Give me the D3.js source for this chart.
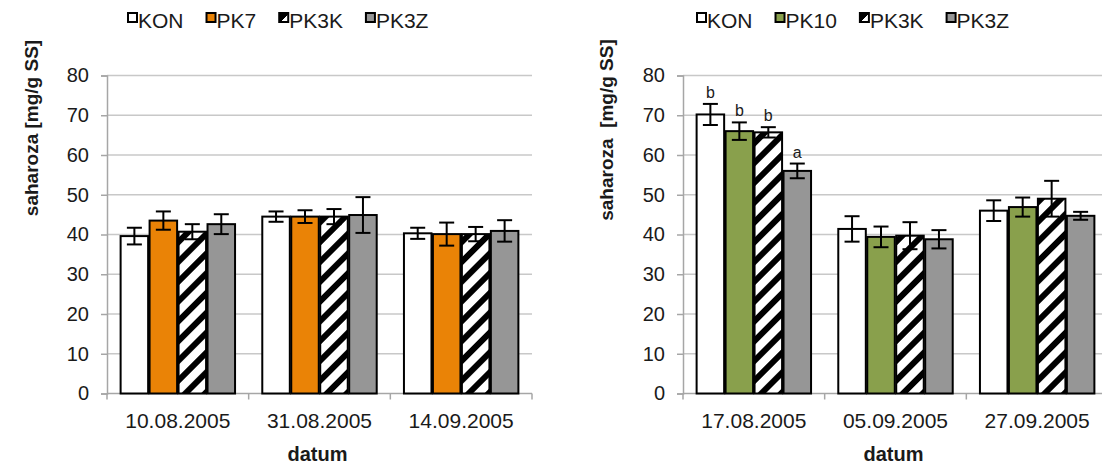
<!DOCTYPE html>
<html>
<head>
<meta charset="utf-8">
<script src="https://cdn.jsdelivr.net/npm/d3@7/dist/d3.min.js"></script>
<style>
  body { margin: 0; background: #fff; }
  svg { display: block; font-family: "Liberation Sans", Arial, sans-serif; }
</style>
</head>
<body>
<svg id="chart" width="1102" height="465"></svg>
<script>
// left panel
var datesA = ["10.08.2005", "31.08.2005", "14.09.2005"];
var seriesA = ["KON", "PK7", "PK3K", "PK3Z"];
var valuesA = [
  [39.6, 43.5, 40.7, 42.6],
  [44.5, 44.5, 44.5, 44.9],
  [40.3, 40.1, 40.1, 40.9]
];
var errorsA = [
  [2.1, 2.3, 1.9, 2.5],
  [1.3, 1.6, 1.9, 4.5],
  [1.4, 2.9, 1.8, 2.7]
];
var lettersA = [["", "", "", ""], ["", "", "", ""], ["", "", "", ""]];

// right panel
var datesB = ["17.08.2005", "05.09.2005", "27.09.2005"];
var seriesB = ["KON", "PK10", "PK3K", "PK3Z"];
var valuesB = [
  [70.2, 66.0, 65.7, 56.0],
  [41.4, 39.4, 39.7, 38.8],
  [46.0, 46.9, 49.0, 44.7]
];
var errorsB = [
  [2.65, 2.2, 1.3, 1.85],
  [3.2, 2.6, 3.4, 2.3],
  [2.6, 2.4, 4.5, 1.0]
];
var lettersB = [["b", "b", "b", "a"], ["", "", "", ""], ["", "", "", ""]];

var yTicks = [0, 10, 20, 30, 40, 50, 60, 70, 80];

var svg = d3.select("#chart");
var ink = "#1a1a1a";

// hatch for PK3K
var defs = svg.append("defs");
var pat = defs.append("pattern")
    .attr("id", "hatch")
    .attr("patternUnits", "userSpaceOnUse")
    .attr("width", 14).attr("height", 14)
    .attr("patternTransform", "rotate(45)");
pat.append("rect").attr("width", 14).attr("height", 14).attr("fill", "#fff");
pat.append("rect").attr("width", 6).attr("height", 14).attr("fill", "#000");

// half-black swatch for the hatched series
defs.append("linearGradient").attr("id", "half")
  .attr("x1", 0).attr("y1", 0).attr("x2", 1).attr("y2", 1)
  .selectAll("stop").data([["0", "#000"], ["0.55", "#000"], ["0.55", "#fff"], ["1", "#fff"]])
  .join("stop").attr("offset", function(d) { return d[0]; }).attr("stop-color", function(d) { return d[1]; });

function drawPanel(cfg) {
  var x0 = cfg.left, w = 425, top = 75.5, bottom = 393.5;
  var g = svg.append("g");

  var y = d3.scaleLinear().domain([0, 80]).range([bottom, top]);
  var x = d3.scaleBand().domain(cfg.dates).range([x0, x0 + w]).padding(0);
  var xs = d3.scaleBand().domain(cfg.series).range([0, x.bandwidth()])
      .paddingInner(0.05).paddingOuter(0.47);

  // grid
  g.append("g").selectAll("line")
    .data(yTicks.filter(function(d) { return d > 0; }))
    .join("line")
    .attr("x1", x0).attr("x2", x0 + w)
    .attr("y1", function(d) { return y(d); })
    .attr("y2", function(d) { return y(d); })
    .attr("stroke", "#c8c8c8").attr("stroke-width", 1.5);

  // y axis
  var ya = g.append("g").attr("transform", "translate(" + x0 + ",0)")
    .call(d3.axisLeft(y).tickValues(yTicks).tickSize(6).tickPadding(12));
  ya.select(".domain").attr("stroke", "#a6a6a6").attr("stroke-width", 1.5);
  ya.selectAll(".tick line").attr("stroke", "#a6a6a6").attr("stroke-width", 1.5);
  ya.selectAll(".tick text").attr("font-size", 20).attr("fill", ink)
    .attr("font-family", "Liberation Sans, Arial, sans-serif");

  // x axis: ticks at category boundaries
  var xa = g.append("g").attr("transform", "translate(0," + bottom + ")");
  xa.append("line").attr("x1", x0).attr("x2", x0 + w)
    .attr("stroke", "#a6a6a6").attr("stroke-width", 1.5);
  var bounds = cfg.dates.map(function(d) { return x(d); }).concat([x0 + w]);
  xa.selectAll("line.b").data(bounds).join("line").attr("class", "b")
    .attr("x1", function(d) { return d; }).attr("x2", function(d) { return d; })
    .attr("y1", 0).attr("y2", 6)
    .attr("stroke", "#a6a6a6").attr("stroke-width", 1.5);
  xa.selectAll("text").data(cfg.dates).join("text")
    .attr("x", function(d) { return x(d) + x.bandwidth() / 2; })
    .attr("y", 34)
    .attr("text-anchor", "middle")
    .attr("font-size", 21).attr("fill", ink)
    .text(function(d) { return d; });

  // bars
  var rows = [];
  cfg.dates.forEach(function(d, i) {
    cfg.series.forEach(function(s, j) {
      rows.push({ date: d, s: s, j: j, v: cfg.values[i][j], e: cfg.errors[i][j], l: cfg.letters[i][j] });
    });
  });

  var bars = g.append("g").selectAll("g").data(rows).join("g")
    .attr("transform", function(d) { return "translate(" + (x(d.date) + xs(d.s)) + ",0)"; });
  var bw = xs.bandwidth();

  bars.append("rect")
    .attr("x", 0).attr("width", bw)
    .attr("y", function(d) { return y(d.v); })
    .attr("height", function(d) { return y(0) - y(d.v); })
    .attr("fill", function(d) { return cfg.fills[d.j]; })
    .attr("stroke", "#000").attr("stroke-width", 2);

  // error bars
  var cap = 7.5;
  bars.append("line")
    .attr("x1", bw / 2).attr("x2", bw / 2)
    .attr("y1", function(d) { return y(d.v + d.e); })
    .attr("y2", function(d) { return y(d.v - d.e); })
    .attr("stroke", "#000").attr("stroke-width", 2);
  bars.append("line")
    .attr("x1", bw / 2 - cap).attr("x2", bw / 2 + cap)
    .attr("y1", function(d) { return y(d.v + d.e); })
    .attr("y2", function(d) { return y(d.v + d.e); })
    .attr("stroke", "#000").attr("stroke-width", 2);
  bars.append("line")
    .attr("x1", bw / 2 - cap).attr("x2", bw / 2 + cap)
    .attr("y1", function(d) { return y(d.v - d.e); })
    .attr("y2", function(d) { return y(d.v - d.e); })
    .attr("stroke", "#000").attr("stroke-width", 2);

  // significance letters
  bars.filter(function(d) { return d.l; }).append("text")
    .attr("x", bw / 2)
    .attr("y", function(d) { return y(d.v + d.e) - 6; })
    .attr("text-anchor", "middle")
    .attr("font-size", 16).attr("fill", ink)
    .text(function(d) { return d.l; });

  // axis titles
  g.append("text")
    .attr("transform", "translate(" + cfg.titleX + "," + cfg.titleY + ") rotate(-90)")
    .attr("text-anchor", "middle")
    .attr("font-size", 19).attr("font-weight", "bold").attr("fill", ink)
    .attr("xml:space", "preserve")
    .text(cfg.yTitle);
  g.append("text")
    .attr("x", x0 + w / 2 - 2).attr("y", 461)
    .attr("text-anchor", "middle")
    .attr("font-size", 20).attr("font-weight", "bold").attr("fill", ink)
    .text("datum");

  // legend
  var lx = cfg.legendX;
  cfg.series.forEach(function(s, j) {
    g.append("rect")
      .attr("x", lx).attr("y", 13).attr("width", 9).attr("height", 9)
      .attr("fill", cfg.legendFills[j]).attr("stroke", "#000").attr("stroke-width", 2);
    var t = g.append("text")
      .attr("x", lx + 10).attr("y", 27.5)
      .attr("font-size", 21).attr("fill", ink)
      .text(s);
    lx += 10 + t.node().getComputedTextLength() + 23;
  });
}

drawPanel({
  left: 107, dates: datesA, series: seriesA, values: valuesA, errors: errorsA, letters: lettersA,
  fills: ["#ffffff", "#ea8306", "url(#hatch)", "#969696"],
  legendFills: ["#ffffff", "#ea8306", "url(#half)", "#969696"],
  yTitle: "saharoza [mg/g SS]", titleX: 38, titleY: 128, legendX: 128
});
drawPanel({
  left: 683, dates: datesB, series: seriesB, values: valuesB, errors: errorsB, letters: lettersB,
  fills: ["#ffffff", "#89a04c", "url(#hatch)", "#969696"],
  legendFills: ["#ffffff", "#89a04c", "url(#half)", "#969696"],
  yTitle: "saharoza  [mg/g SS]", titleX: 613, titleY: 130, legendX: 697
});
</script>
</body>
</html>
